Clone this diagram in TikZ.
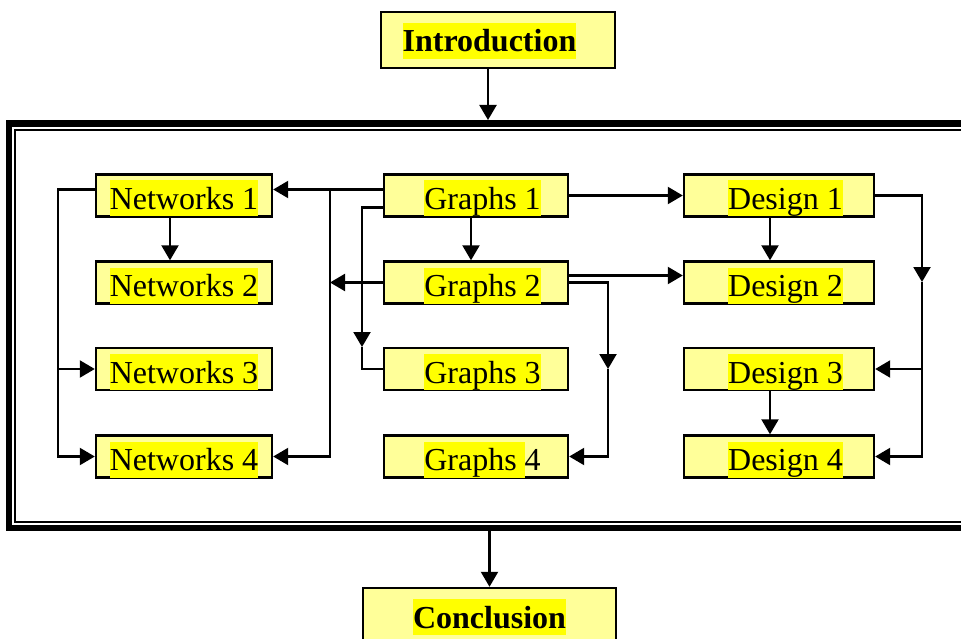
\documentclass[tikz,border=0pt]{standalone}
\usepackage{fontspec}
\setmainfont{Liberation Serif}
\usetikzlibrary{arrows.meta}
\definecolor{boxyellow}{RGB}{255,255,153}
\definecolor{markyellow}{RGB}{255,255,0}
\newcommand{\hl}[1]{{\setlength{\fboxsep}{0pt}\colorbox{markyellow}{\rule[-7pt]{0pt}{36pt}#1}}}
\tikzset{%
    topic/.style={draw, line width=2.4pt, fill=boxyellow, inner xsep=0pt, inner ysep=0pt,
        text height=35pt, text depth=7pt, font=\fontsize{32}{38}\selectfont},
    ends/.style={topic, text height=40pt, text depth=16pt, font=\fontsize{32}{38}\selectfont\bfseries},
    link/.style={line width=2.2pt},
    arr/.style={link, -{Triangle[length=15pt 0,width=17pt 0]}}
}

\begin{document}
\begin{tikzpicture}[x=1pt,y=-1pt]
        \useasboundingbox (0,0) rectangle (961,639);
        \clip (0,0) rectangle (961,639);
        \draw[line width=6.5pt] (9,123.5) rectangle (990,528);
        \draw[line width=2pt] (15,130) rectangle (980,522);
        \node[ends, minimum width=234pt] (intro) at (498,40) {\hspace*{-17pt}\hl{Introduction}};
        \node[ends, minimum width=253pt] (concl) at (489.5,616) {\hl{Conclusion}};
        \node[topic, minimum width=176pt] (n1) at (184,195.5) {\hl{Networks 1}};
        \node[topic, minimum width=176pt] (n2) at (184,282.5) {\hl{Networks 2}};
        \node[topic, minimum width=176pt] (n3) at (184,369) {\hl{Networks 3}};
        \node[topic, minimum width=176pt] (n4) at (184,456.5) {\hl{Networks 4}};
        \node[topic, minimum width=184pt] (g1) at (476,195.5) {\hspace*{13pt}\hl{Graphs 1}};
        \node[topic, minimum width=184pt] (g2) at (476,282.5) {\hspace*{13pt}\hl{Graphs 2}};
        \node[topic, minimum width=184pt] (g3) at (476,369) {\hspace*{13pt}\hl{Graphs 3}};
        \node[topic, minimum width=184pt] (g4) at (476,456.5) {\hspace*{13pt}\hl{Graphs }4};
        \node[topic, minimum width=190pt] (d1) at (779,195.5) {\hspace*{13pt}\hl{Design 1}};
        \node[topic, minimum width=190pt] (d2) at (779,282.5) {\hspace*{13pt}\hl{Design 2}};
        \node[topic, minimum width=190pt] (d3) at (779,369) {\hspace*{13pt}\hl{Design 3}};
        \node[topic, minimum width=190pt] (d4) at (779,456.5) {\hspace*{13pt}\hl{Design 4}};
        \coordinate (ftop) at (488,120);
        \coordinate (fbot) at (489.5,531);
        \coordinate (tl) at (58,195);
        \coordinate (tm) at (330,195);
        \coordinate (tg) at (362,347);
        \coordinate (tr) at (608,369);
        \coordinate (td) at (922,282);
        \coordinate (nl) at ([yshift=6pt]n1.west);
        \coordinate (g1a) at ([yshift=6pt]g1.west);
        \coordinate (g1b) at ([yshift=-12pt]g1.west);
        \coordinate (g2a) at ([yshift=7pt]g2.east);
        \draw[arr] (intro.south -| ftop) -- (ftop);
        \draw[arr] (fbot) -- (concl.north);
        \draw[arr] (nl) -| (tl |- n4) -- (n4.west);
        \draw[arr] (tl |- n3) -- (n3.west);
        \draw[arr] ([xshift=-14pt]n1.south) -- ([xshift=-14pt]n2.north);
        \draw[arr] (g1a) -- (g1a -| n1.east);
        \draw[arr] (g1a -| tm) |- (n4.east);
        \draw[arr] (g2.west) -- (g2.west -| tm);
        \draw[arr] (g1b) -| (tg);
        \draw[link] (tg) |- (g3.west);
        \draw[arr] ([xshift=-5pt]g1.south) -- ([xshift=-5pt]g2.north);
        \draw[arr] (g1) -- (d1);
        \draw[arr] (g2a) -- (g2a -| d2.west);
        \draw[arr] (g2.east) -| (tr);
        \draw[arr] (tr) |- (g4.east);
        \draw[arr] (d1.east) -| (td);
        \draw[arr] (td) |- (d4.east);
        \draw[arr] (td |- d3) -- (d3.east);
        \draw[arr] ([xshift=-9pt]d1.south) -- ([xshift=-9pt]d2.north);
        \draw[arr] ([xshift=-9pt]d3.south) -- ([xshift=-9pt]d4.north);
\end{tikzpicture}
\end{document}
